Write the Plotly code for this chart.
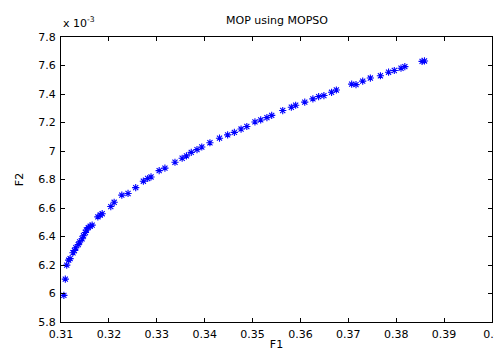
import plotly.graph_objects as go

# F1 values and F2 values (F2 in units of 1e-3)
f1 = [0.3106, 0.3109, 0.3112, 0.3116, 0.3119, 0.3125, 0.3128, 0.3131, 0.3136, 0.3139,
      0.3144, 0.3147, 0.3151, 0.3153, 0.3157, 0.3161, 0.3165, 0.3177, 0.3182, 0.3186,
      0.3204, 0.3211, 0.3227, 0.3240, 0.3256, 0.3272, 0.3281, 0.3288, 0.3305, 0.3317,
      0.3338, 0.3353, 0.3362, 0.3372, 0.3384, 0.3394, 0.3411, 0.3431, 0.3448, 0.3462,
      0.3476, 0.3488, 0.3505, 0.3517, 0.3530, 0.3540, 0.3563, 0.3581, 0.3590, 0.3609,
      0.3626, 0.3638, 0.3649, 0.3665, 0.3675, 0.3707, 0.3716, 0.3730, 0.3746, 0.3767,
      0.3784, 0.3796, 0.3810, 0.3818, 0.3854, 0.3859]
f2_e3 = [5.987, 6.101, 6.199, 6.234, 6.245, 6.286, 6.302, 6.321, 6.343, 6.362,
         6.384, 6.405, 6.428, 6.446, 6.462, 6.473, 6.480, 6.538, 6.551, 6.560,
         6.610, 6.640, 6.690, 6.702, 6.743, 6.788, 6.807, 6.818, 6.862, 6.880,
         6.921, 6.949, 6.966, 6.990, 7.010, 7.028, 7.058, 7.090, 7.113, 7.131,
         7.154, 7.172, 7.204, 7.218, 7.234, 7.250, 7.284, 7.307, 7.321, 7.343,
         7.366, 7.382, 7.389, 7.412, 7.428, 7.469, 7.466, 7.490, 7.512, 7.528,
         7.553, 7.565, 7.581, 7.592, 7.629, 7.632]

x_ticks = [0.31, 0.32, 0.33, 0.34, 0.35, 0.36, 0.37, 0.38, 0.39, 0.40]
x_tick_labels = ["0.31", "0.32", "0.33", "0.34", "0.35", "0.36", "0.37", "0.38", "0.39", "0.4"]
y_ticks = [5.8, 6.0, 6.2, 6.4, 6.6, 6.8, 7.0, 7.2, 7.4, 7.6, 7.8]
y_tick_labels = ["5.8", "6", "6.2", "6.4", "6.6", "6.8", "7", "7.2", "7.4", "7.6", "7.8"]

FONT = "DejaVu Sans, Liberation Sans, Arial, sans-serif"

fig = go.Figure()
fig.add_trace(go.Scatter(
    x=f1, y=f2_e3, mode="markers",
    marker=dict(symbol="asterisk-open", size=6, color="#0000ff",
                line=dict(color="#0000ff", width=1.1)),
    showlegend=False, cliponaxis=False,
))

axis_common = dict(showgrid=False, zeroline=False, showline=True, linecolor="black",
                   linewidth=1, mirror="allticks", ticks="inside", ticklen=4,
                   tickcolor="black", tickfont=dict(family=FONT, size=11, color="black"))

fig.update_layout(
    width=502, height=350,
    margin=dict(l=53, r=9, t=29, b=29),
    paper_bgcolor="white", plot_bgcolor="white",
    font=dict(family=FONT, size=11, color="black"),
    xaxis=dict(range=[0.31, 0.40], tickvals=x_ticks, ticktext=x_tick_labels,
               ticklabelstandoff=2,
               title=dict(text="F1", font=dict(family=FONT, size=11), standoff=0), **axis_common),
    yaxis=dict(range=[5.8, 7.8], tickvals=y_ticks, ticktext=y_tick_labels,
               ticklabelstandoff=2,
               title=dict(text="F2", font=dict(family=FONT, size=11), standoff=12), **axis_common),
    annotations=[
        dict(text="MOP using MOPSO", x=0.5, y=1, xref="paper", yref="paper",
             xanchor="center", yanchor="bottom", yshift=8, showarrow=False,
             font=dict(family=FONT, size=11, color="black")),
        dict(text="x 10<sup>-3</sup>", x=0, y=1, xref="paper", yref="paper",
             xanchor="left", yanchor="bottom", yshift=5, showarrow=False,
             font=dict(family=FONT, size=11, color="black")),
    ],
)

fig.write_html("out.html")
